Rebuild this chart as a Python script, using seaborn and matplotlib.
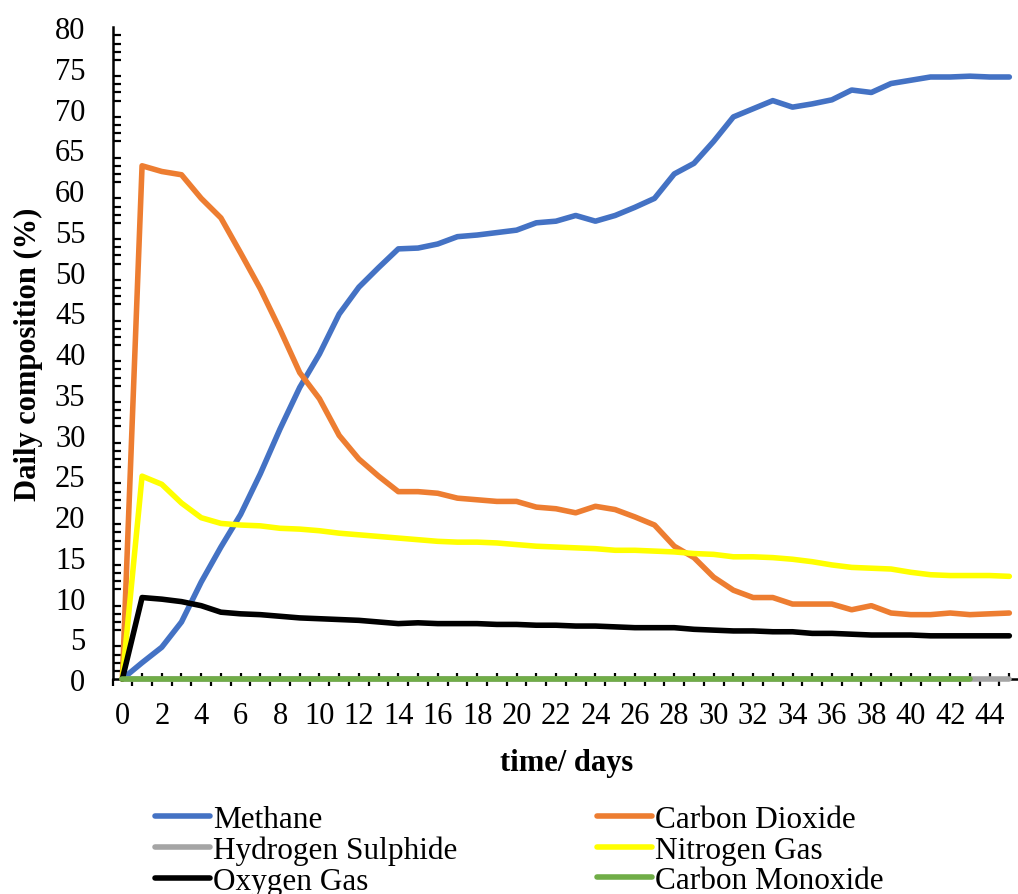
import numpy as np
import pandas as pd
import matplotlib
matplotlib.use("Agg")
import matplotlib.pyplot as plt
from matplotlib.ticker import MultipleLocator, FixedLocator, FixedFormatter
import seaborn as sns

# daily gas composition (%), days 0..45
days = list(range(46))
methane = [0, 2.0, 3.9, 7.0, 11.9, 16.2, 20.2, 25.2, 30.7, 35.8, 39.9, 44.8, 48.1, 50.5, 52.8, 52.9,
           53.4, 54.3, 54.5, 54.8, 55.1, 56.0, 56.2, 56.9, 56.2, 56.9, 57.9, 59.0, 62.0, 63.3, 66.0,
           69.0, 70.0, 71.0, 70.2, 70.6, 71.1, 72.3, 72.0, 73.1, 73.5, 73.9, 73.9, 74.0, 73.9, 73.9]
carbon_dioxide = [0, 63.0, 62.3, 61.9, 59.0, 56.6, 52.3, 47.9, 42.9, 37.6, 34.4, 29.9, 27.0, 24.9, 23.0,
                  23.0, 22.8, 22.2, 22.0, 21.8, 21.8, 21.1, 20.9, 20.4, 21.2, 20.8, 19.9, 18.9, 16.3,
                  14.9, 12.5, 10.9, 10.0, 10.0, 9.2, 9.2, 9.2, 8.5, 9.0, 8.1, 7.9, 7.9, 8.1, 7.9, 8.0, 8.1]
hydrogen_sulphide = [0] * 46
nitrogen = [0, 24.9, 23.9, 21.6, 19.8, 19.1, 18.9, 18.8, 18.5, 18.4, 18.2, 17.9, 17.7, 17.5, 17.3, 17.1,
            16.9, 16.8, 16.8, 16.7, 16.5, 16.3, 16.2, 16.1, 16.0, 15.8, 15.8, 15.7, 15.6, 15.4, 15.3,
            15.0, 15.0, 14.9, 14.7, 14.4, 14.0, 13.7, 13.6, 13.5, 13.1, 12.8, 12.7, 12.7, 12.7, 12.6]
oxygen = [0, 10.0, 9.8, 9.5, 9.0, 8.2, 8.0, 7.9, 7.7, 7.5, 7.4, 7.3, 7.2, 7.0, 6.8, 6.9, 6.8, 6.8, 6.8,
          6.7, 6.7, 6.6, 6.6, 6.5, 6.5, 6.4, 6.3, 6.3, 6.3, 6.1, 6.0, 5.9, 5.9, 5.8, 5.8, 5.6, 5.6,
          5.5, 5.4, 5.4, 5.4, 5.3, 5.3, 5.3, 5.3, 5.3]
carbon_monoxide = [0] * 44  # days 0..43

names = ["Methane", "Carbon Dioxide", "Hydrogen Sulphide", "Nitrogen Gas", "Oxygen Gas", "Carbon Monoxide"]
series = [methane, carbon_dioxide, hydrogen_sulphide, nitrogen, oxygen, carbon_monoxide]
colors = ["#4472C4", "#ED7D31", "#A5A5A5", "#FFFF00", "#000000", "#70AD47"]

sns.set_style("white")
plt.rcParams['font.family'] = ['Liberation Serif', 'DejaVu Serif']
plt.rcParams['text.color'] = 'black'
plt.rcParams['axes.labelcolor'] = 'black'
plt.rcParams['xtick.color'] = 'black'
plt.rcParams['ytick.color'] = 'black'

fig = plt.figure(figsize=(10.18, 8.95), dpi=100)
ax = fig.add_axes([112.5 / 1018, 1 - 680 / 895, 1 - 112.5 / 1018, (680 - 28.3) / 895])

handles = {}
for name, vals, c in zip(names, series, colors):
    df = pd.DataFrame({"day": days[:len(vals)], "value": vals})
    sns.lineplot(data=df, x="day", y="value", color=c, lw=4.0, ax=ax, label=name,
                 legend=False, solid_joinstyle="round", solid_capstyle="round", clip_on=False)
    handles[name] = ax.get_lines()[-1]

ax.set_xlim(-0.5, 45.44)
ax.set_ylim(0, 80)

# y axis: major every 5 (cross), minor every 1 (inside)
ax.yaxis.set_major_locator(MultipleLocator(5))
ax.yaxis.set_minor_locator(MultipleLocator(1))
ax.tick_params(axis="y", which="major", direction="inout", length=13, width=1.6,
               labelsize=22, pad=13)
ax.tick_params(axis="y", which="minor", direction="in", length=6, width=1.6, left=True)

# x axis: inner ticks at each day, outer ticks between days; labels every 2 days
ax.xaxis.set_major_locator(FixedLocator(days))
ax.xaxis.set_major_formatter(FixedFormatter([str(d) if d % 2 == 0 else "" for d in days]))
ax.xaxis.set_minor_locator(FixedLocator(np.arange(-0.5, 45.5, 1.0)))
ax.tick_params(axis="x", which="major", direction="in", length=4, width=1.6,
               labelsize=22, pad=16, bottom=True)
ax.tick_params(axis="x", which="minor", direction="out", length=5, width=1.6, bottom=True)

for s in ["top", "right"]:
    ax.spines[s].set_visible(False)
for s in ["left", "bottom"]:
    ax.spines[s].set_linewidth(1.8)
    ax.spines[s].set_color("black")
    ax.spines[s].set_zorder(1)

ax.set_xlabel("time/ days", fontsize=22, fontweight="bold", va="center")
ax.xaxis.set_label_coords(0.502, -0.1274)
ax.set_ylabel("Daily composition (%)", fontsize=22, fontweight="bold", va="center")
ax.yaxis.set_label_coords(-0.0933, 0.5)

order = ["Methane", "Hydrogen Sulphide", "Oxygen Gas", "Carbon Dioxide", "Nitrogen Gas", "Carbon Monoxide"]
fig.legend([handles[n] for n in order], order, ncol=2, loc="upper left",
           bbox_to_anchor=(155 / 1018, 1 - 806 / 895), frameon=False, fontsize=22.5,
           borderpad=0, borderaxespad=0, handlelength=1.75, handletextpad=0.12,
           columnspacing=4.45, labelspacing=0.05)

fig.savefig("out.png", dpi=100)
